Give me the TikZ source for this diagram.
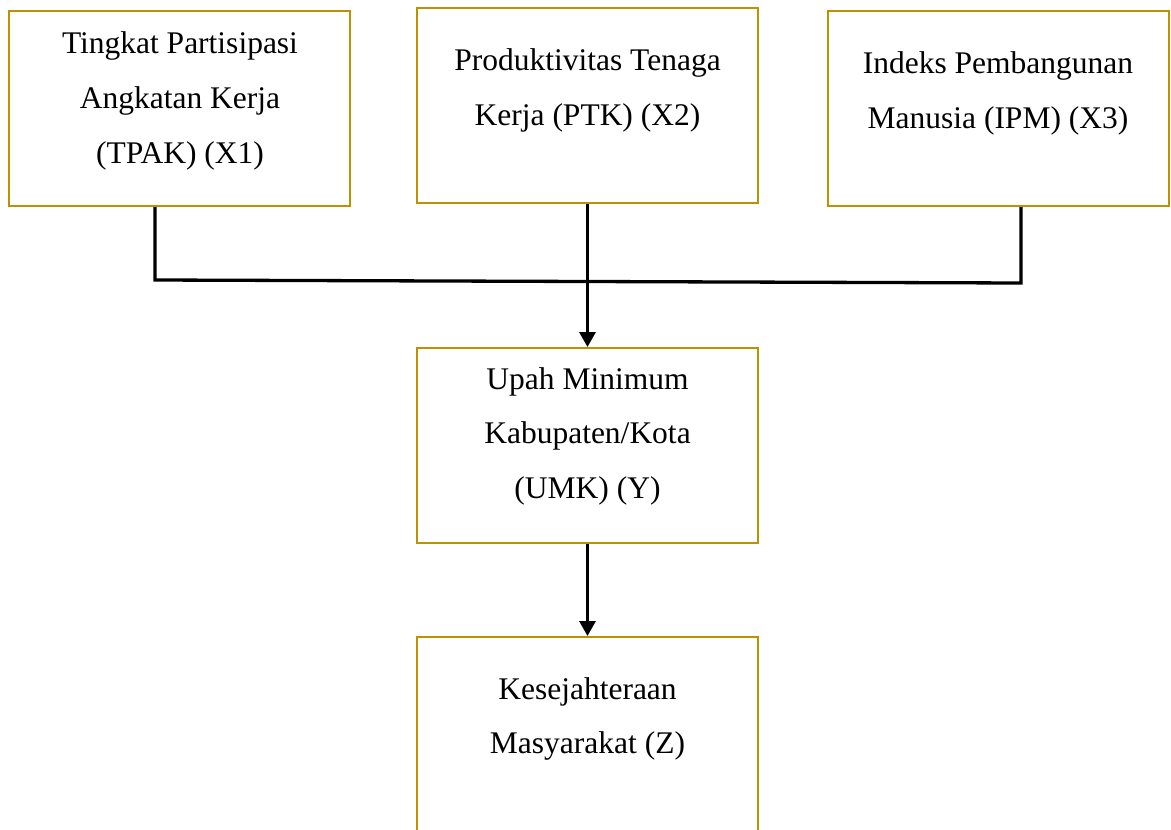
\documentclass[tikz,border=0pt]{standalone}
\usepackage{fontspec}
\setmainfont{Liberation Serif}
\usetikzlibrary{arrows.meta}
\definecolor{boxgold}{HTML}{BF9000}
\begin{document}
\begin{tikzpicture}[x=1pt,y=-1pt,
  varbox/.style={draw=boxgold, line width=2pt, inner sep=0pt, minimum width=341pt, minimum height=195pt},
  lbl/.style={anchor=base, inner sep=0pt, font=\fontsize{31.5pt}{38pt}\selectfont},
  conn/.style={line width=3.3pt, line join=miter},
  arr/.style={conn, -{Triangle[width=16pt,length=15pt]}}]
\useasboundingbox (0,0) rectangle (1171,830);
\clip (0,0) rectangle (1171,830);
% boxes
\node[varbox] (x1) at (179.5,108.5) {};
\node[varbox] (x2) at (587.5,105.5) {};
\node[varbox] (x3) at (998,108.5) {};
\node[varbox] (y) at (587.5,445.5) {};
\node[varbox] (z) at (587.5,734.5) {};
% labels
\node[lbl] (x1a) at (180,53.5) {Tingkat Partisipasi};
\node[lbl] (x1b) at (180,108.5) {Angkatan Kerja};
\node[lbl] (x1c) at (180,163.5) {(TPAK) (X1)};
\node[lbl] (x2a) at (587.5,70) {Produktivitas Tenaga};
\node[lbl] (x2b) at (587.5,125) {Kerja (PTK) (X2)};
\node[lbl] (x3a) at (998,73) {Indeks Pembangunan};
\node[lbl] (x3b) at (998,128) {Manusia (IPM) (X3)};
\node[lbl] (ya) at (587.5,389) {Upah Minimum};
\node[lbl] (yb) at (587.5,443.5) {Kabupaten/Kota};
\node[lbl] (yc) at (587.5,498) {(UMK) (Y)};
\node[lbl] (za) at (587.5,699) {Kesejahteraan};
\node[lbl] (zb) at (587.5,753) {Masyarakat (Z)};
% connectors
\coordinate (jl) at (155,280);
\coordinate (jr) at (1021,283);
\draw[conn] (x1.south -| jl) -- (jl) -- (jr) -- (x3.south -| jr);
\draw[arr] (x2.south) -- (y.north);
\draw[arr] (y.south) -- (z.north);
\end{tikzpicture}
\end{document}
